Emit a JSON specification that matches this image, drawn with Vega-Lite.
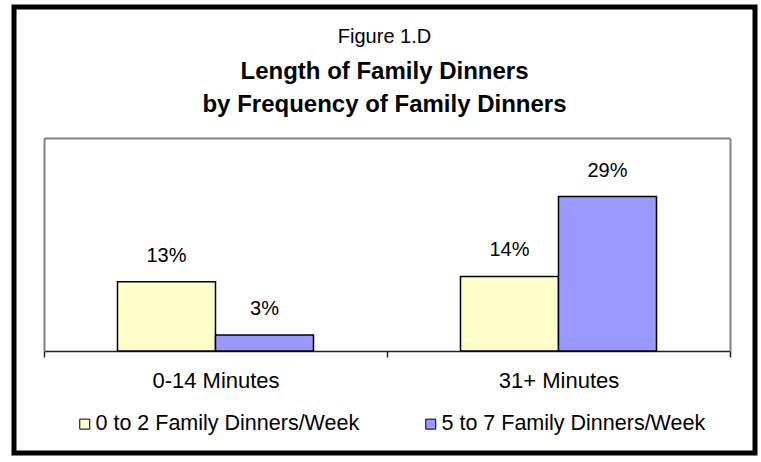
{
  "$schema": "https://vega.github.io/schema/vega-lite/v6.json",
  "width": 741,
  "height": 446,
  "autosize": {"type": "none"},
  "padding": {"left": 14, "top": 7, "right": 6, "bottom": 9},
  "background": "white",
  "title": {
    "text": "Figure 1.D",
    "subtitle": ["Length of Family Dinners", "by Frequency of Family Dinners"],
    "anchor": "middle",
    "frame": "group",
    "orient": "top",
    "offset": -110,
    "font": "Liberation Sans",
    "fontSize": 20,
    "fontWeight": "normal",
    "color": "black",
    "subtitleFont": "Liberation Sans",
    "subtitleFontSize": 24,
    "subtitleFontWeight": "bold",
    "subtitleColor": "black",
    "subtitlePadding": 13,
    "subtitleLineHeight": 33
  },
  "data": {
    "values": [
      {"length": "0-14 Minutes", "freq": "0 to 2 Family Dinners/Week", "pct": 0.13},
      {"length": "0-14 Minutes", "freq": "5 to 7 Family Dinners/Week", "pct": 0.03},
      {"length": "31+ Minutes", "freq": "0 to 2 Family Dinners/Week", "pct": 0.14},
      {"length": "31+ Minutes", "freq": "5 to 7 Family Dinners/Week", "pct": 0.29}
    ]
  },
  "layer": [
    {
      "mark": {"type": "bar", "stroke": "black", "strokeWidth": 1.5},
      "encoding": {
        "x": {
          "field": "length",
          "type": "nominal",
          "sort": ["0-14 Minutes", "31+ Minutes"],
          "scale": {"range": [30, 716], "paddingInner": 0, "paddingOuter": 0},
          "axis": {
            "orient": "bottom",
            "offset": -102,
            "title": null,
            "labelAngle": 0,
            "tickBand": "extent",
            "domainColor": "#222222",
            "domainWidth": 1.5,
            "tickColor": "#222222",
            "tickWidth": 1.5,
            "tickSize": 6,
            "labelFontSize": 22,
            "labelFont": "Liberation Sans",
            "labelColor": "black",
            "labelPadding": 13
          }
        },
        "xOffset": {
          "field": "freq",
          "type": "nominal",
          "sort": ["0 to 2 Family Dinners/Week", "5 to 7 Family Dinners/Week"],
          "scale": {"paddingInner": 0, "paddingOuter": 0.75}
        },
        "y": {
          "field": "pct",
          "type": "quantitative",
          "scale": {"domain": [0, 0.4], "range": [344, 131], "nice": false, "zero": true},
          "axis": {
            "orient": "left",
            "offset": -30,
            "values": [0.4],
            "grid": true,
            "gridColor": "#808080",
            "gridWidth": 2,
            "ticks": false,
            "labels": false,
            "domainColor": "#808080",
            "domainWidth": 2,
            "title": null
          }
        },
        "fill": {
          "field": "freq",
          "type": "nominal",
          "sort": ["0 to 2 Family Dinners/Week", "5 to 7 Family Dinners/Week"],
          "scale": {"range": ["#FFFFCC", "#9999FF"]},
          "legend": {
            "orient": "none",
            "legendX": 60,
            "legendY": 406,
            "direction": "horizontal",
            "title": null,
            "padding": 0,
            "symbolType": "square",
            "symbolSize": 100,
            "symbolStrokeColor": "black",
            "symbolStrokeWidth": 1,
            "labelFontSize": 21.5,
            "labelFont": "Liberation Sans",
            "labelColor": "black",
            "labelLimit": 600,
            "labelOffset": 0,
            "columnPadding": 60
          }
        }
      }
    },
    {
      "mark": {"type": "text", "baseline": "alphabetic", "dy": -20, "fontSize": 20, "font": "Liberation Sans", "color": "black"},
      "encoding": {
        "x": {"field": "length", "type": "nominal", "sort": ["0-14 Minutes", "31+ Minutes"]},
        "xOffset": {"field": "freq", "type": "nominal", "sort": ["0 to 2 Family Dinners/Week", "5 to 7 Family Dinners/Week"]},
        "y": {
          "field": "pct",
          "type": "quantitative",
          "axis": {
            "orient": "right",
            "offset": -25,
            "values": [],
            "grid": false,
            "ticks": false,
            "labels": false,
            "domainColor": "#808080",
            "domainWidth": 2,
            "title": null
          }
        },
        "text": {"field": "pct", "type": "quantitative", "format": ".0%"}
      }
    }
  ],
  "resolve": {"axis": {"y": "independent"}},
  "config": {
    "view": {"stroke": "black", "strokeWidth": 5},
    "font": "Liberation Sans"
  }
}
